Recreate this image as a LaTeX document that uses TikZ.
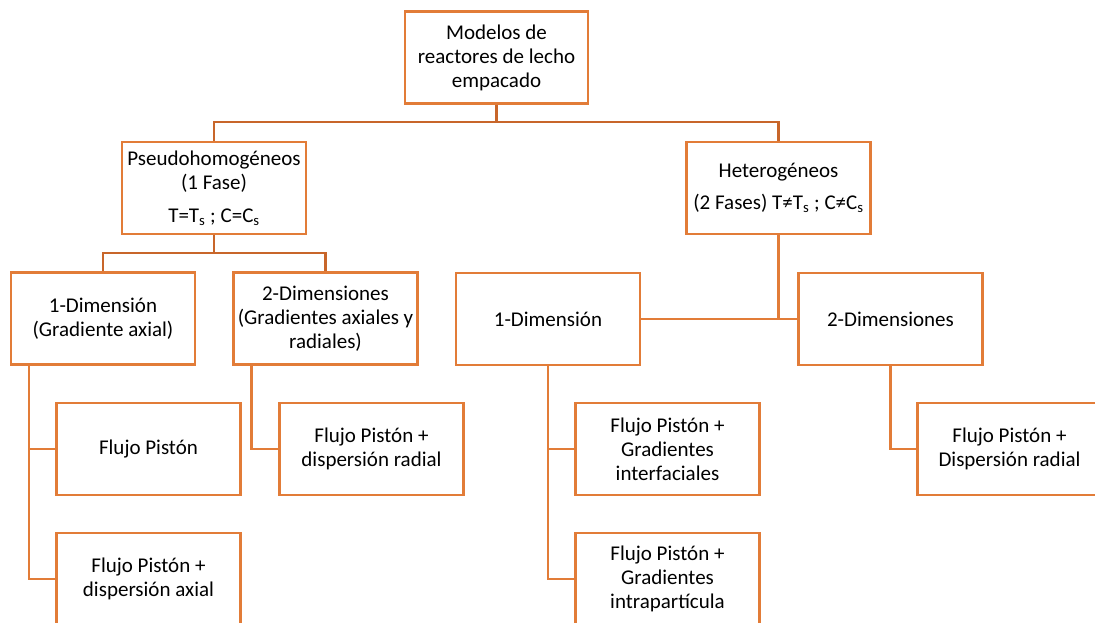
\documentclass[tikz,border=0pt]{standalone}
\usepackage{fontspec}
\setmainfont{Carlito}
\definecolor{boxor}{RGB}{226,124,56}
\definecolor{lineor}{RGB}{200,102,42}
\begin{document}
\begin{tikzpicture}[x=1pt,y=-1pt,
  mbox/.style={draw=boxor,line width=2.8pt,rectangle,minimum width=184pt,minimum height=92pt,inner sep=0pt,align=center,font=\fontsize{21}{24}\selectfont,text=black},
  conn/.style={draw=lineor,line width=2.8pt}]
\useasboundingbox (0,0) rectangle (1095,623);
\clip (0,0) rectangle (1095,623);
\fill[white] (0,0) rectangle (1095,623);
% nodes
\node[mbox,minimum width=183pt] (root) at (496.5,57.5) {Modelos de\\reactores de lecho\\empacado};
\node[mbox] (pseudo) at (214,188) {Pseudohomogéneos\\(1 Fase)\\[9pt]T=T\textsubscript{s} ; C=C\textsubscript{s}};
\node[mbox] (het) at (778.5,188) {Heterogéneos\\[8pt](2 Fases) T≠T\textsubscript{s} ; C≠C\textsubscript{s}};
\node[mbox] (odl) at (103,318.5) {1-Dimensión\\(Gradiente axial)};
\node[mbox] (tdl) at (325.5,318.5) {2-Dimensiones\\(Gradientes axiales y\\radiales)};
\node[mbox] (odr) at (548,319) {1-Dimensión};
\node[mbox] (tdr) at (890.5,319) {2-Dimensiones};
\node[mbox] (fp) at (148.5,449) {Flujo Pistón};
\node[mbox] (fpda) at (148.5,579) {Flujo Pistón +\\dispersión axial};
\node[mbox] (fpdr) at (371.5,449) {Flujo Pistón +\\dispersión radial};
\node[mbox] (fpgi) at (667.5,449) {Flujo Pistón +\\Gradientes\\interfaciales};
\node[mbox] (fpgp) at (667.5,579) {Flujo Pistón +\\Gradientes\\intrapartícula};
\node[mbox] (fpDr) at (1009.5,449) {Flujo Pistón +\\Dispersión radial};
% connectors
\coordinate (b1) at (496.5,122);
\draw[conn] (root.south) -- (b1);
\draw[conn] (pseudo.north) |- (b1) -| (het.north);
\coordinate (b2) at (214,253);
\draw[conn] (pseudo.south) -- (b2);
\draw[conn] (odl.north) |- (b2) -| (tdl.north);
\coordinate (h1) at (778.5,318.5);
\draw[conn,draw=boxor] (het.south) -- (h1);
\draw[conn,draw=boxor] (odr.east) -- (tdr.west);
% left 1D children
\coordinate (l1) at (29,364);
\draw[conn,draw=boxor] (l1) |- (fpda.west);
\draw[conn,draw=boxor] (29,449) -- (fp.west);
% left 2D children
\coordinate (l2) at (251.5,364);
\draw[conn,draw=boxor] (l2) |- (fpdr.west);
% right 1D children
\draw[conn,draw=boxor] (odr.south) |- (fpgp.west);
\draw[conn,draw=boxor] (548,449) -- (fpgi.west);
% right 2D children
\draw[conn,draw=boxor] (tdr.south) |- (fpDr.west);
\end{tikzpicture}
\end{document}
